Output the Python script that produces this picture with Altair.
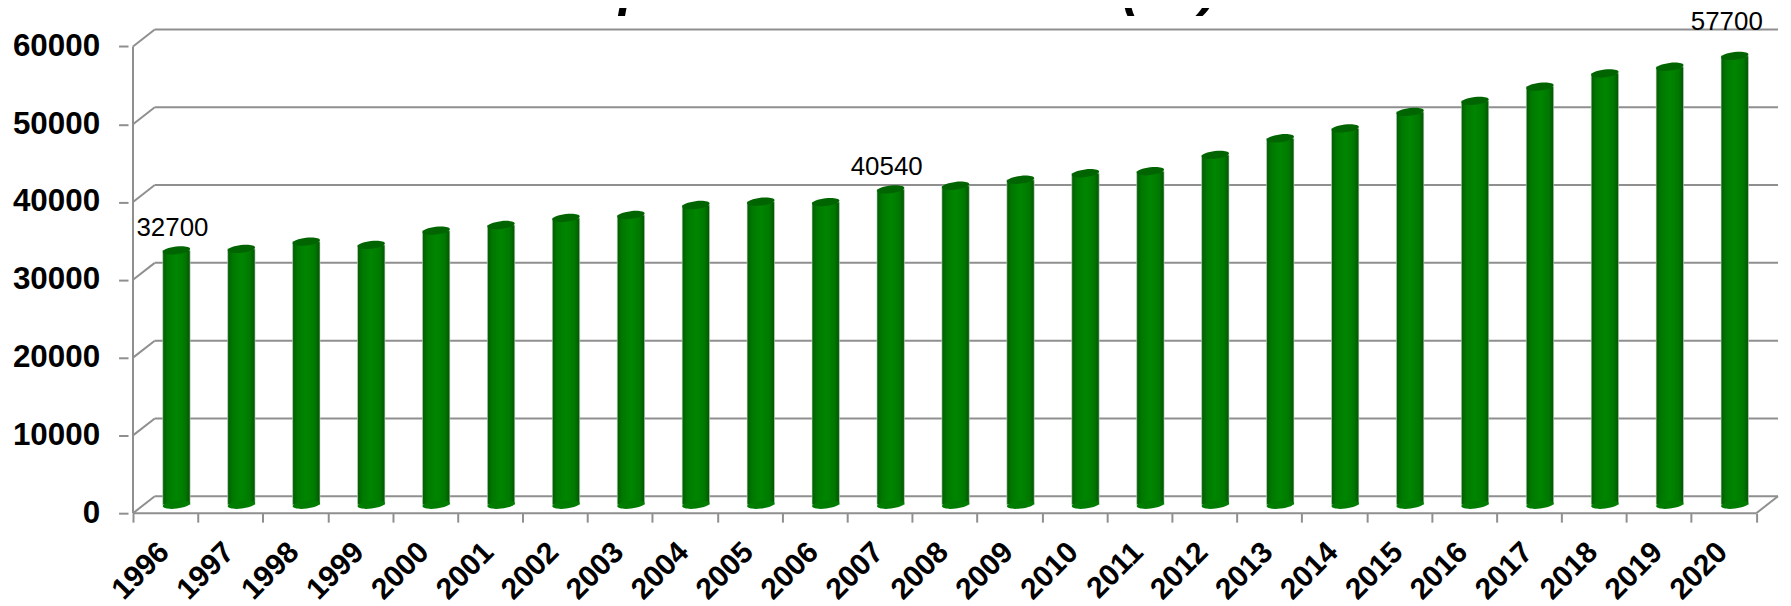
import json
import altair as alt
import pandas as pd

years = ["1996","1997","1998","1999","2000","2001","2002","2003","2004","2005","2006","2007",
         "2008","2009","2010","2011","2012","2013","2014","2015","2016","2017","2018","2019","2020"]
values = [32700,32890,33820,33400,35230,35950,36860,37240,38520,38950,38900,40540,
          41000,41770,42610,42870,44970,47100,48370,50500,51920,53750,55450,56300,57700]
y_ticks = [0,10000,20000,30000,40000,50000,60000]
title_text = "Superficie des oliviers (ha)"
labelled = ["1996","2007"]
labelled_high = ["2020"]

DEPTH_X = 0.335     # wall depth in category units
DEPTH_Y = 2177      # wall depth in value units
X_MAX = len(years) + DEPTH_X
Y_MAX = 62228
GRID = "#8f8f8f"
FONT = "Liberation Sans"

bars = pd.DataFrame({"year": years, "value": values, "pos": [i + 0.5 for i in range(len(years))]})
bars["base"] = 0
grid = pd.DataFrame({"v": y_ticks})
grid["v2"] = grid["v"] + DEPTH_Y
grid["x0"] = 0.0
grid["xd"] = DEPTH_X
grid["xe"] = X_MAX
edges = pd.DataFrame({"x": [0.0, 0.0, float(len(years))], "x2": [0.0, float(len(years)), X_MAX],
                      "y": [0, 0, 0], "y2": [60000, 0, DEPTH_Y]})

x_scale = alt.Scale(domain=[0, X_MAX], nice=False, zero=False)
y_scale = alt.Scale(domain=[0, Y_MAX], nice=False)
X = lambda f: alt.X(f, type="quantitative", scale=x_scale, title=None)
Y = lambda f: alt.Y(f, type="quantitative", scale=y_scale, title=None)

rule = lambda **k: alt.Chart(grid).mark_rule(color=GRID, strokeWidth=2, **k)
back = rule().encode(x=X("xd"), x2="xe", y=Y("v2"))
diag = rule().encode(x=X("x0"), x2="xd", y=Y("v"), y2="v2")
edge = alt.Chart(edges).mark_rule(color=GRID, strokeWidth=2).encode(x=X("x"), x2="x2", y=Y("y"), y2="y2")

axis_chart = alt.Chart(bars).mark_point(opacity=0).encode(
    x=alt.X("pos", type="quantitative", scale=x_scale, title=None, axis=alt.Axis(
        values=list(range(len(years) + 1)),
        labelExpr=json.dumps(years) + "[datum.value] || ''",
        domain=False, grid=False, tickColor=GRID, tickWidth=2, tickSize=9,
        labelAngle=-45, labelAlign="right", labelBaseline="middle",
        labelFont=FONT, labelFontSize=30, labelFontWeight="bold", labelColor="black",
        labelOffset=31, labelPadding=25, labelOverlap=False, labelFlush=False)),
    y=alt.Y("value", type="quantitative", scale=y_scale, title=None, axis=alt.Axis(
        values=y_ticks, format="d", domain=False, grid=False, tickColor=GRID, tickWidth=2,
        tickSize=9.5, labelFont=FONT, labelFontSize=31.5, labelFontWeight="bold", labelColor="black",
        labelPadding=19, labelOverlap=False)),
)

gradient = alt.LinearGradient(gradient="linear", x1=0, x2=1, y1=0, y2=0, stops=[
    alt.GradientStop(offset=0, color="#045c04"),
    alt.GradientStop(offset=0.18, color="#007800"),
    alt.GradientStop(offset=0.5, color="#008600"),
    alt.GradientStop(offset=0.82, color="#007800"),
    alt.GradientStop(offset=1, color="#045404"),
])
OFF_X, OFF_Y = 11, -8.5
body = alt.Chart(bars).mark_bar(size=27.5, orient="vertical", color=gradient, stroke="#c9d6c9", strokeWidth=0.6,
                                xOffset=OFF_X, yOffset=OFF_Y, y2Offset=OFF_Y).encode(x=X("pos"), y=Y("value"), y2="base")
ELLIPSE = "M-1,0.12 A1,0.28 -7 1 1 1,-0.12 A1,0.28 -7 1 1 -1,0.12 Z"
bottom = alt.Chart(bars).mark_point(shape=ELLIPSE, size=756, filled=True, opacity=1, color="#007c00",
                                    xOffset=OFF_X, yOffset=OFF_Y).encode(x=X("pos"), y=Y("base"))
top = alt.Chart(bars).mark_point(shape=ELLIPSE, size=756, filled=True, opacity=1, color="#006400",
                                 xOffset=OFF_X, yOffset=OFF_Y).encode(x=X("pos"), y=Y("value"))

text = lambda names, dx, dy: alt.Chart(bars[bars["year"].isin(names)]).mark_text(
    font=FONT, fontSize=26, color="black", align="center", baseline="alphabetic",
    xOffset=dx, yOffset=dy).encode(x=X("pos"), y=Y("value"), text=alt.Text("value", format="d"))
labels = text(labelled, 7, -22.5)
labels_high = text(labelled_high, 3, -34.5)

chart = alt.layer(axis_chart, back, diag, edge, body, bottom, top, labels, labels_high).properties(
    width=1661.5, height=486,
    title=alt.TitleParams(text=title_text, font=FONT, fontSize=52.5, fontWeight="bold", fontStyle="italic",
                          color="black", anchor="middle", offset=0, dx=-71, dy=7.5),
    autosize=alt.AutoSizeParams(type="none"),
    padding={"left": 120.5, "top": 20, "right": 0, "bottom": 90},
).configure_view(stroke=None)

chart.save("out.html", embed_options={"renderer": "svg", "actions": False})
